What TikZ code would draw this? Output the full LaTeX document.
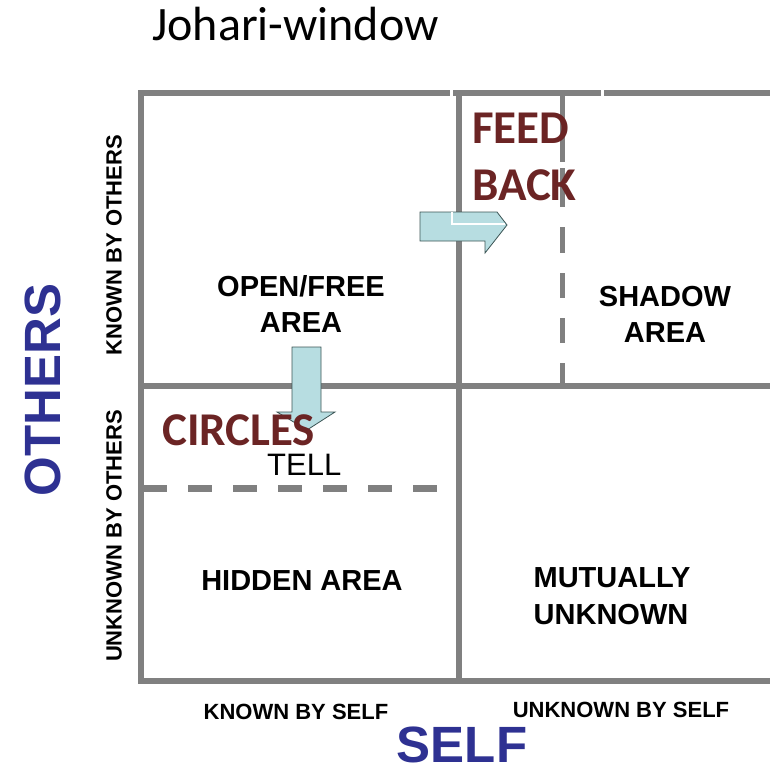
\documentclass[tikz,border=0pt]{standalone}
\usepackage{fontspec}
\setmainfont{Liberation Sans}
\newfontfamily\calibrifont{Carlito}
\definecolor{gridgray}{HTML}{808080}
\definecolor{selfblue}{HTML}{2E3192}
\definecolor{feedred}{HTML}{6B2424}
\definecolor{arrowblue}{HTML}{B7DDE1}
\definecolor{arrowedge}{HTML}{3C5555}
\tikzset{
  gridline/.style={gridgray, line width=6pt, line join=miter},
  dashpiece/.style={gridgray, line width=5pt},
  blockarrow/.style={fill=arrowblue, draw=arrowedge, line width=0.8pt, line join=miter},
  arealabel/.style={font=\fontsize{29}{36}\selectfont\bfseries, inner sep=0pt, anchor=base},
  sidelabel/.style={font=\fontsize{22}{26}\selectfont\bfseries, inner sep=0pt},
  axislabel/.style={font=\fontsize{51}{60}\selectfont\bfseries, text=selfblue, inner sep=0pt},
  redlabel/.style={font=\calibrifont\fontsize{47}{52}\selectfont\bfseries, text=feedred,
    inner sep=0pt, anchor=base west}
}
\begin{document}
\begin{tikzpicture}[x=1pt, y=-1pt]
  \useasboundingbox (0,0) rectangle (770,769);
  % window frame
  \draw[gridline] (770,93) -- (141,93) -- (141,681) -- (770,681);
  \draw[gridline] (459,93) -- (459,681);
  \draw[gridline] (141,386) -- (770,386);
  \fill[white] (450,89) rectangle (453,97);
  \fill[white] (601,89) rectangle (604,97);
  % shifted borders
  \foreach \a/\b in {93/162, 168/207, 227/253, 273/298, 318/343, 363/386}
    \draw[dashpiece] (562,\a) -- (562,\b);
  \draw[gridline, line width=6.5pt, dash pattern=on 24pt off 21pt] (143,488.5) -- (440,488.5);
  % arrows
  \draw[blockarrow] (420,212) -- (497,212) -- (507,225) -- (485,253)
    -- (485,241) -- (420,241) -- cycle;
  \draw[white, line width=1.2pt] (452,212) -- (452,224) -- (505,224);
  \draw[blockarrow] (292,347) -- (321,347) -- (321,412) -- (335,412)
    -- (307,430) -- (277,412) -- (292,412) -- cycle;
  % texts
  \node[font=\calibrifont\fontsize{48}{52}\selectfont, inner sep=0pt, anchor=base west]
    (title) at (152,40) {Johari-window};
  \node[redlabel] (feed) at (472,143) {FEED};
  \node[redlabel] (back) at (472,200) {BACK};
  \node[redlabel] (circles) at (162,445) {CIRCLES};
  \node[font=\fontsize{31}{36}\selectfont, inner sep=0pt, anchor=base west]
    (tell) at (267,475) {TELL};
  \node[arealabel] (open) at (301,296) {OPEN/FREE};
  \node[arealabel] (openarea) at (301,332) {AREA};
  \node[arealabel] (shadow) at (665,306) {SHADOW};
  \node[arealabel] (shadowarea) at (665,342) {AREA};
  \node[arealabel] (hidden) at (302,590) {HIDDEN AREA};
  \node[arealabel] (mutually) at (612,587) {MUTUALLY};
  \node[arealabel] (unknown) at (611,624) {UNKNOWN};
  \node[sidelabel, anchor=base] (knownself) at (296,719) {KNOWN BY SELF};
  \node[sidelabel, anchor=base] (unknownself) at (621,717) {UNKNOWN BY SELF};
  \node[sidelabel, rotate=90] (knownothers) at (114,245) {KNOWN BY OTHERS};
  \node[sidelabel, rotate=90] (unknownothers) at (114,536) {UNKNOWN BY OTHERS};
  \node[axislabel, anchor=base] (self) at (462,762) {SELF};
  \node[axislabel, rotate=90] (others) at (43,390) {OTHERS};
\end{tikzpicture}
\end{document}
